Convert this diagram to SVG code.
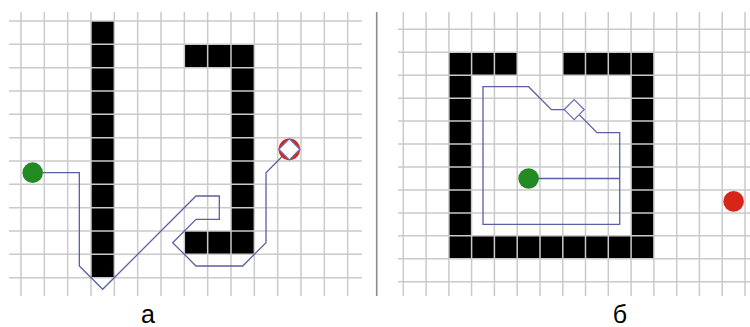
<svg xmlns="http://www.w3.org/2000/svg" width="750" height="327" viewBox="0 0 750 327">
<style>
.grid line{stroke:#cacaca;stroke-width:1.5}
.wall{fill:#000}
.path{fill:none;stroke:#5a5fa6;stroke-width:1.3;stroke-linejoin:miter}
.start{fill:#238a23}
.goal{fill:#d6261a}
.diamond{fill:#fff;stroke:#6a6fb0;stroke-width:1.3}
.lbl{font-family:"Liberation Sans",Arial,sans-serif;font-size:25px;fill:#000;text-anchor:middle}
</style>
<rect width="750" height="327" fill="#fff"/>

<!-- Panel a: obstacles -->
<g id="walls-a" class="wall">
<rect x="91" y="21" width="23.33" height="256.67"/>
<rect x="184.33" y="44.33" width="70" height="23.33"/>
<rect x="231" y="44.33" width="23.33" height="210"/>
<rect x="184.33" y="231" width="70" height="23.33"/>
</g>

<!-- Panel b: obstacles -->
<g id="walls-b" class="wall">
<rect x="448.9" y="52.25" width="68.3" height="22.95"/>
<rect x="562.8" y="52.25" width="91.1" height="22.95"/>
<rect x="448.9" y="52.25" width="22.8" height="206.55"/>
<rect x="631.1" y="52.25" width="22.8" height="206.55"/>
<rect x="448.9" y="235.85" width="205" height="22.95"/>
</g>

<!-- Grid a -->
<g id="grid-a" class="grid">
<line x1="21" y1="12" x2="21" y2="296"/>
<line x1="44.33" y1="12" x2="44.33" y2="296"/>
<line x1="67.67" y1="12" x2="67.67" y2="296"/>
<line x1="91" y1="12" x2="91" y2="296"/>
<line x1="114.33" y1="12" x2="114.33" y2="296"/>
<line x1="137.67" y1="12" x2="137.67" y2="296"/>
<line x1="161" y1="12" x2="161" y2="296"/>
<line x1="184.33" y1="12" x2="184.33" y2="296"/>
<line x1="207.67" y1="12" x2="207.67" y2="296"/>
<line x1="231" y1="12" x2="231" y2="296"/>
<line x1="254.33" y1="12" x2="254.33" y2="296"/>
<line x1="277.67" y1="12" x2="277.67" y2="296"/>
<line x1="301" y1="12" x2="301" y2="296"/>
<line x1="324.33" y1="12" x2="324.33" y2="296"/>
<line x1="347.67" y1="12" x2="347.67" y2="296"/>
<line x1="9" y1="21" x2="362" y2="21"/>
<line x1="9" y1="44.33" x2="362" y2="44.33"/>
<line x1="9" y1="67.67" x2="362" y2="67.67"/>
<line x1="9" y1="91" x2="362" y2="91"/>
<line x1="9" y1="114.33" x2="362" y2="114.33"/>
<line x1="9" y1="137.67" x2="362" y2="137.67"/>
<line x1="9" y1="161" x2="362" y2="161"/>
<line x1="9" y1="184.33" x2="362" y2="184.33"/>
<line x1="9" y1="207.67" x2="362" y2="207.67"/>
<line x1="9" y1="231" x2="362" y2="231"/>
<line x1="9" y1="254.33" x2="362" y2="254.33"/>
<line x1="9" y1="277.67" x2="362" y2="277.67"/>
</g>

<!-- Grid b -->
<g id="grid-b" class="grid">
<line x1="403.3" y1="12" x2="403.3" y2="296"/>
<line x1="426.1" y1="12" x2="426.1" y2="296"/>
<line x1="448.9" y1="12" x2="448.9" y2="296"/>
<line x1="471.6" y1="12" x2="471.6" y2="296"/>
<line x1="494.4" y1="12" x2="494.4" y2="296"/>
<line x1="517.2" y1="12" x2="517.2" y2="296"/>
<line x1="540" y1="12" x2="540" y2="296"/>
<line x1="562.8" y1="12" x2="562.8" y2="296"/>
<line x1="585.5" y1="12" x2="585.5" y2="296"/>
<line x1="608.3" y1="12" x2="608.3" y2="296"/>
<line x1="631.1" y1="12" x2="631.1" y2="296"/>
<line x1="653.9" y1="12" x2="653.9" y2="296"/>
<line x1="676.7" y1="12" x2="676.7" y2="296"/>
<line x1="699.4" y1="12" x2="699.4" y2="296"/>
<line x1="722.2" y1="12" x2="722.2" y2="296"/>
<line x1="745" y1="12" x2="745" y2="296"/>
<line x1="398" y1="29.3" x2="750" y2="29.3"/>
<line x1="398" y1="52.25" x2="750" y2="52.25"/>
<line x1="398" y1="75.2" x2="750" y2="75.2"/>
<line x1="398" y1="98.15" x2="750" y2="98.15"/>
<line x1="398" y1="121.1" x2="750" y2="121.1"/>
<line x1="398" y1="144.05" x2="750" y2="144.05"/>
<line x1="398" y1="167" x2="750" y2="167"/>
<line x1="398" y1="189.95" x2="750" y2="189.95"/>
<line x1="398" y1="212.9" x2="750" y2="212.9"/>
<line x1="398" y1="235.85" x2="750" y2="235.85"/>
<line x1="398" y1="258.8" x2="750" y2="258.8"/>
<line x1="398" y1="281.75" x2="750" y2="281.75"/>
</g>

<!-- Separator -->
<line x1="376.7" y1="12" x2="376.7" y2="296" stroke="#8c8c8c" stroke-width="1.6"/>

<!-- Connectors (paths) -->
<g id="connectors">
<polyline class="path" points="32.67,172.67 79.33,172.67 79.33,266 102.67,289.33 196,196 219.33,196 219.33,219.33 196,219.33 172.67,242.67 196,266 242.67,266 266,242.67 266,172.67 289.33,149.33"/>
<polyline class="path" points="528.6,178.5 619.7,178.5 619.7,224.4 483,224.4 483,86.7 528.6,86.7 551.4,109.6 574.2,109.6 597,132.6 619.7,132.6 619.7,178.5"/>
</g>

<!-- Nodes -->
<g id="start-a"><circle class="start" cx="32.67" cy="172.67" r="10.3"/></g>
<g id="goal-a">
<circle class="goal" cx="289.33" cy="149.33" r="10.8"/>
<polygon class="diamond" points="289.33,138.8 299.86,149.33 289.33,159.86 278.8,149.33"/>
</g>
<g id="start-b"><circle class="start" cx="528.6" cy="178.5" r="10.3"/></g>
<g id="waypoint-b"><polygon class="diamond" points="574.2,99.6 584.2,109.6 574.2,119.6 564.2,109.6"/></g>
<g id="goal-b"><circle class="goal" cx="733.6" cy="201.4" r="10.3"/></g>

<!-- Labels -->
<text class="lbl" x="148" y="323">а</text>
<text class="lbl" x="620" y="323">б</text>
</svg>
